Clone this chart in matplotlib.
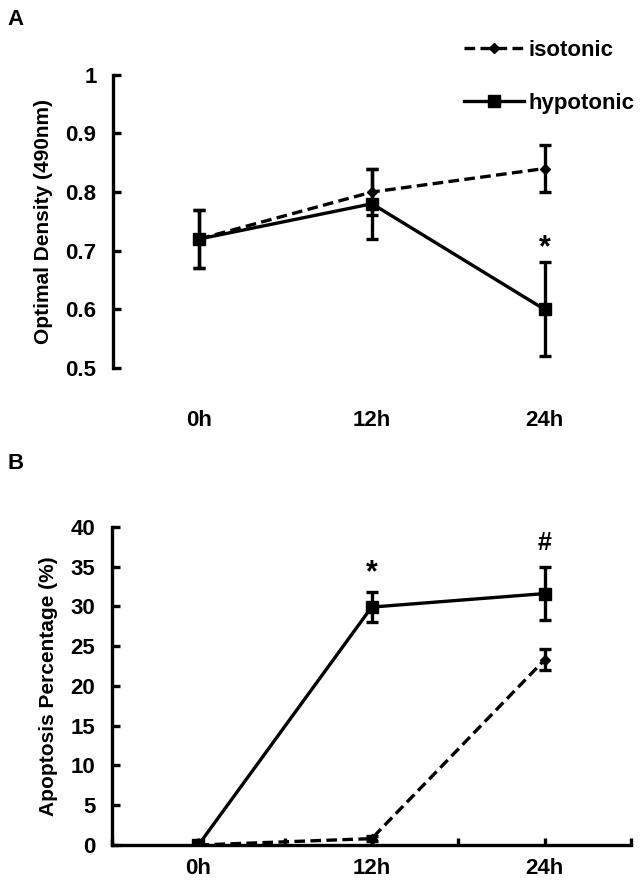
import matplotlib
matplotlib.use("Agg")
import matplotlib.pyplot as plt
from matplotlib.lines import Line2D

plt.rcParams['font.family'] = ['Liberation Sans', 'DejaVu Sans']
plt.rcParams['font.weight'] = 'bold'

# ---- data ----
time_labels = ["0h", "12h", "24h"]
time_hours = [0, 12, 24]

od_iso = [0.72, 0.80, 0.84]
od_iso_err = [0.05, 0.04, 0.04]
od_hypo = [0.72, 0.78, 0.60]
od_hypo_err = [0.05, 0.06, 0.08]

ap_iso = [0.0, 0.8, 23.3]
ap_iso_err = [0.0, 0.3, 1.3]
ap_hypo = [0.0, 29.9, 31.6]
ap_hypo_err = [0.0, 1.9, 3.3]

fig = plt.figure(figsize=(6.43, 8.89), dpi=100)

lw = 2.4
fs = 16
dash = (0, (3.2, 1.6))

def draw(ax, iso, iso_e, hypo, hypo_e):
    ax.errorbar(time_hours, iso, yerr=iso_e, color='black', ls=dash, lw=lw,
                marker='D', ms=5, capsize=4, capthick=lw, elinewidth=lw)
    ax.errorbar(time_hours, hypo, yerr=hypo_e, color='black', ls='-', lw=lw,
                marker='s', ms=8, capsize=4, capthick=lw, elinewidth=lw)
    ax.set_xlim(-6, 30)
    ax.spines['top'].set_visible(False)
    ax.spines['right'].set_visible(False)
    ax.spines['left'].set_linewidth(lw)
    ax.spines['bottom'].set_linewidth(lw)
    ax.tick_params(axis='y', direction='in', length=6, width=lw, labelsize=fs, pad=12)
    for t in ax.get_yticklabels():
        t.set_fontweight('bold')

# Panel A
axA = fig.add_axes([0.176, 0.586, 0.805, 0.330])
draw(axA, od_iso, od_iso_err, od_hypo, od_hypo_err)
axA.set_ylim(0.5, 1.0)
axA.set_yticks([0.5, 0.6, 0.7, 0.8, 0.9, 1.0])
axA.set_yticklabels(["0.5", "0.6", "0.7", "0.8", "0.9", "1"], fontweight='bold')
axA.spines['bottom'].set_visible(False)
axA.set_xticks(time_hours)
axA.set_xticklabels(time_labels, fontsize=fs, fontweight='bold')
axA.tick_params(axis='x', length=0, pad=30)
axA.set_ylabel("Optimal Density (490nm)", fontsize=15, fontweight='bold', labelpad=9)
axA.text(24, 0.705, "*", ha='center', va='center', fontsize=22, fontweight='bold')
h1 = Line2D([], [], color='black', ls=dash, lw=lw, marker='D', ms=5)
h2 = Line2D([], [], color='black', ls='-', lw=lw, marker='s', ms=8)
leg = axA.legend(handles=[h1, h2], labels=["isotonic", "hypotonic"], loc='upper left',
                 bbox_to_anchor=(0.66, 1.15), frameon=False, fontsize=fs,
                 handlelength=2.7, handletextpad=0.2, labelspacing=1.45, borderaxespad=0)
for t in leg.get_texts():
    t.set_fontweight('bold')

# Panel B
axB = fig.add_axes([0.174, 0.0495, 0.808, 0.358])
draw(axB, ap_iso, ap_iso_err, ap_hypo, ap_hypo_err)
axB.set_ylim(0, 40)
axB.set_yticks(range(0, 41, 5))
axB.set_xticks(list(range(-6, 31, 6)))
axB.set_xticklabels([])
axB.tick_params(axis='x', direction='in', length=5, width=lw)
for xh, lab in zip(time_hours, time_labels):
    axB.text(xh, -0.075, lab, transform=axB.get_xaxis_transform(), ha='center', va='center',
             fontsize=fs, fontweight='bold')
axB.set_ylabel("Apoptosis Percentage (%)", fontsize=15, fontweight='bold', labelpad=9)
axB.text(12, 34.2, "*", ha='center', va='center', fontsize=22, fontweight='bold')
axB.text(24, 38.0, "#", ha='center', va='center', fontsize=18, fontweight='bold')

fig.text(0.012, 0.978, "A", fontsize=16, fontweight='bold', va='center')
fig.text(0.012, 0.479, "B", fontsize=16, fontweight='bold', va='center')

fig.savefig("out.png", dpi=100)
